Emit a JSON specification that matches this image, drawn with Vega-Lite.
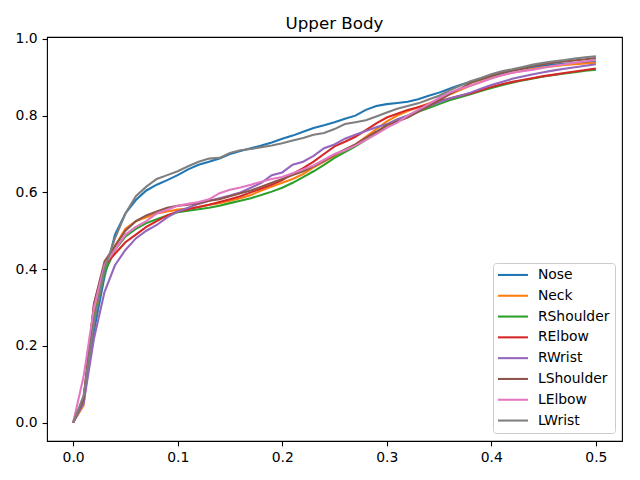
{
"$schema":"https://vega.github.io/schema/vega-lite/v6.json",
"width":575,"height":404,
"autosize":{"type":"none"},
"padding":{"left":47,"top":37,"right":18,"bottom":39},
"background":"white",
"config":{"view":{"stroke":"black","strokeWidth":1.1},"font":"DejaVu Sans"},
"title":{"text":"Upper Body","fontSize":16.7,"fontWeight":"normal","font":"DejaVu Sans","color":"black","offset":-1},
"datasets":{"d":[
{"x":0,"s":"Nose","y":0},{"x":0.01,"s":"Nose","y":0.06},{"x":0.02,"s":"Nose","y":0.24},{"x":0.03,"s":"Nose","y":0.38},{"x":0.04,"s":"Nose","y":0.49},{"x":0.05,"s":"Nose","y":0.545},{"x":0.06,"s":"Nose","y":0.58},{"x":0.07,"s":"Nose","y":0.605},{"x":0.08,"s":"Nose","y":0.62},{"x":0.09,"s":"Nose","y":0.632},{"x":0.1,"s":"Nose","y":0.645},{"x":0.11,"s":"Nose","y":0.66},{"x":0.12,"s":"Nose","y":0.672},{"x":0.13,"s":"Nose","y":0.68},{"x":0.14,"s":"Nose","y":0.688},{"x":0.15,"s":"Nose","y":0.7},{"x":0.16,"s":"Nose","y":0.708},{"x":0.17,"s":"Nose","y":0.715},{"x":0.18,"s":"Nose","y":0.722},{"x":0.19,"s":"Nose","y":0.73},{"x":0.2,"s":"Nose","y":0.74},{"x":0.21,"s":"Nose","y":0.748},{"x":0.22,"s":"Nose","y":0.758},{"x":0.23,"s":"Nose","y":0.768},{"x":0.24,"s":"Nose","y":0.775},{"x":0.25,"s":"Nose","y":0.783},{"x":0.26,"s":"Nose","y":0.792},{"x":0.27,"s":"Nose","y":0.8},{"x":0.28,"s":"Nose","y":0.815},{"x":0.29,"s":"Nose","y":0.825},{"x":0.3,"s":"Nose","y":0.83},{"x":0.31,"s":"Nose","y":0.833},{"x":0.32,"s":"Nose","y":0.836},{"x":0.33,"s":"Nose","y":0.843},{"x":0.34,"s":"Nose","y":0.852},{"x":0.35,"s":"Nose","y":0.86},{"x":0.36,"s":"Nose","y":0.87},{"x":0.37,"s":"Nose","y":0.88},{"x":0.38,"s":"Nose","y":0.888},{"x":0.39,"s":"Nose","y":0.895},{"x":0.4,"s":"Nose","y":0.903},{"x":0.41,"s":"Nose","y":0.91},{"x":0.42,"s":"Nose","y":0.917},{"x":0.43,"s":"Nose","y":0.922},{"x":0.44,"s":"Nose","y":0.926},{"x":0.45,"s":"Nose","y":0.93},{"x":0.46,"s":"Nose","y":0.933},{"x":0.47,"s":"Nose","y":0.935},{"x":0.48,"s":"Nose","y":0.937},{"x":0.49,"s":"Nose","y":0.939},{"x":0.5,"s":"Nose","y":0.94},
{"x":0,"s":"Neck","y":0},{"x":0.01,"s":"Neck","y":0.045},{"x":0.02,"s":"Neck","y":0.28},{"x":0.03,"s":"Neck","y":0.4},{"x":0.04,"s":"Neck","y":0.46},{"x":0.05,"s":"Neck","y":0.505},{"x":0.06,"s":"Neck","y":0.525},{"x":0.07,"s":"Neck","y":0.535},{"x":0.08,"s":"Neck","y":0.545},{"x":0.09,"s":"Neck","y":0.55},{"x":0.1,"s":"Neck","y":0.555},{"x":0.11,"s":"Neck","y":0.558},{"x":0.12,"s":"Neck","y":0.562},{"x":0.13,"s":"Neck","y":0.568},{"x":0.14,"s":"Neck","y":0.572},{"x":0.15,"s":"Neck","y":0.578},{"x":0.16,"s":"Neck","y":0.585},{"x":0.17,"s":"Neck","y":0.593},{"x":0.18,"s":"Neck","y":0.605},{"x":0.19,"s":"Neck","y":0.615},{"x":0.2,"s":"Neck","y":0.625},{"x":0.21,"s":"Neck","y":0.635},{"x":0.22,"s":"Neck","y":0.648},{"x":0.23,"s":"Neck","y":0.665},{"x":0.24,"s":"Neck","y":0.68},{"x":0.25,"s":"Neck","y":0.695},{"x":0.26,"s":"Neck","y":0.71},{"x":0.27,"s":"Neck","y":0.725},{"x":0.28,"s":"Neck","y":0.745},{"x":0.29,"s":"Neck","y":0.765},{"x":0.3,"s":"Neck","y":0.785},{"x":0.31,"s":"Neck","y":0.8},{"x":0.32,"s":"Neck","y":0.812},{"x":0.33,"s":"Neck","y":0.822},{"x":0.34,"s":"Neck","y":0.832},{"x":0.35,"s":"Neck","y":0.842},{"x":0.36,"s":"Neck","y":0.855},{"x":0.37,"s":"Neck","y":0.867},{"x":0.38,"s":"Neck","y":0.878},{"x":0.39,"s":"Neck","y":0.888},{"x":0.4,"s":"Neck","y":0.898},{"x":0.41,"s":"Neck","y":0.905},{"x":0.42,"s":"Neck","y":0.912},{"x":0.43,"s":"Neck","y":0.917},{"x":0.44,"s":"Neck","y":0.922},{"x":0.45,"s":"Neck","y":0.926},{"x":0.46,"s":"Neck","y":0.929},{"x":0.47,"s":"Neck","y":0.932},{"x":0.48,"s":"Neck","y":0.934},{"x":0.49,"s":"Neck","y":0.936},{"x":0.5,"s":"Neck","y":0.938},
{"x":0,"s":"RShoulder","y":0},{"x":0.01,"s":"RShoulder","y":0.06},{"x":0.02,"s":"RShoulder","y":0.27},{"x":0.03,"s":"RShoulder","y":0.39},{"x":0.04,"s":"RShoulder","y":0.45},{"x":0.05,"s":"RShoulder","y":0.485},{"x":0.06,"s":"RShoulder","y":0.505},{"x":0.07,"s":"RShoulder","y":0.52},{"x":0.08,"s":"RShoulder","y":0.53},{"x":0.09,"s":"RShoulder","y":0.54},{"x":0.1,"s":"RShoulder","y":0.548},{"x":0.11,"s":"RShoulder","y":0.552},{"x":0.12,"s":"RShoulder","y":0.556},{"x":0.13,"s":"RShoulder","y":0.56},{"x":0.14,"s":"RShoulder","y":0.565},{"x":0.15,"s":"RShoulder","y":0.572},{"x":0.16,"s":"RShoulder","y":0.578},{"x":0.17,"s":"RShoulder","y":0.585},{"x":0.18,"s":"RShoulder","y":0.593},{"x":0.19,"s":"RShoulder","y":0.602},{"x":0.2,"s":"RShoulder","y":0.612},{"x":0.21,"s":"RShoulder","y":0.625},{"x":0.22,"s":"RShoulder","y":0.64},{"x":0.23,"s":"RShoulder","y":0.655},{"x":0.24,"s":"RShoulder","y":0.672},{"x":0.25,"s":"RShoulder","y":0.69},{"x":0.26,"s":"RShoulder","y":0.705},{"x":0.27,"s":"RShoulder","y":0.72},{"x":0.28,"s":"RShoulder","y":0.737},{"x":0.29,"s":"RShoulder","y":0.755},{"x":0.3,"s":"RShoulder","y":0.775},{"x":0.31,"s":"RShoulder","y":0.79},{"x":0.32,"s":"RShoulder","y":0.8},{"x":0.33,"s":"RShoulder","y":0.81},{"x":0.34,"s":"RShoulder","y":0.82},{"x":0.35,"s":"RShoulder","y":0.83},{"x":0.36,"s":"RShoulder","y":0.84},{"x":0.37,"s":"RShoulder","y":0.848},{"x":0.38,"s":"RShoulder","y":0.856},{"x":0.39,"s":"RShoulder","y":0.864},{"x":0.4,"s":"RShoulder","y":0.872},{"x":0.41,"s":"RShoulder","y":0.879},{"x":0.42,"s":"RShoulder","y":0.886},{"x":0.43,"s":"RShoulder","y":0.892},{"x":0.44,"s":"RShoulder","y":0.897},{"x":0.45,"s":"RShoulder","y":0.902},{"x":0.46,"s":"RShoulder","y":0.906},{"x":0.47,"s":"RShoulder","y":0.91},{"x":0.48,"s":"RShoulder","y":0.913},{"x":0.49,"s":"RShoulder","y":0.917},{"x":0.5,"s":"RShoulder","y":0.92},
{"x":0,"s":"RElbow","y":0},{"x":0.01,"s":"RElbow","y":0.06},{"x":0.02,"s":"RElbow","y":0.31},{"x":0.03,"s":"RElbow","y":0.41},{"x":0.04,"s":"RElbow","y":0.44},{"x":0.05,"s":"RElbow","y":0.47},{"x":0.06,"s":"RElbow","y":0.49},{"x":0.07,"s":"RElbow","y":0.51},{"x":0.08,"s":"RElbow","y":0.525},{"x":0.09,"s":"RElbow","y":0.54},{"x":0.1,"s":"RElbow","y":0.55},{"x":0.11,"s":"RElbow","y":0.556},{"x":0.12,"s":"RElbow","y":0.562},{"x":0.13,"s":"RElbow","y":0.568},{"x":0.14,"s":"RElbow","y":0.575},{"x":0.15,"s":"RElbow","y":0.582},{"x":0.16,"s":"RElbow","y":0.59},{"x":0.17,"s":"RElbow","y":0.6},{"x":0.18,"s":"RElbow","y":0.61},{"x":0.19,"s":"RElbow","y":0.62},{"x":0.2,"s":"RElbow","y":0.632},{"x":0.21,"s":"RElbow","y":0.648},{"x":0.22,"s":"RElbow","y":0.663},{"x":0.23,"s":"RElbow","y":0.68},{"x":0.24,"s":"RElbow","y":0.7},{"x":0.25,"s":"RElbow","y":0.72},{"x":0.26,"s":"RElbow","y":0.732},{"x":0.27,"s":"RElbow","y":0.745},{"x":0.28,"s":"RElbow","y":0.762},{"x":0.29,"s":"RElbow","y":0.78},{"x":0.3,"s":"RElbow","y":0.795},{"x":0.31,"s":"RElbow","y":0.805},{"x":0.32,"s":"RElbow","y":0.815},{"x":0.33,"s":"RElbow","y":0.822},{"x":0.34,"s":"RElbow","y":0.83},{"x":0.35,"s":"RElbow","y":0.838},{"x":0.36,"s":"RElbow","y":0.845},{"x":0.37,"s":"RElbow","y":0.852},{"x":0.38,"s":"RElbow","y":0.858},{"x":0.39,"s":"RElbow","y":0.866},{"x":0.4,"s":"RElbow","y":0.875},{"x":0.41,"s":"RElbow","y":0.882},{"x":0.42,"s":"RElbow","y":0.888},{"x":0.43,"s":"RElbow","y":0.893},{"x":0.44,"s":"RElbow","y":0.898},{"x":0.45,"s":"RElbow","y":0.903},{"x":0.46,"s":"RElbow","y":0.907},{"x":0.47,"s":"RElbow","y":0.911},{"x":0.48,"s":"RElbow","y":0.915},{"x":0.49,"s":"RElbow","y":0.919},{"x":0.5,"s":"RElbow","y":0.923},
{"x":0,"s":"RWrist","y":0},{"x":0.01,"s":"RWrist","y":0.05},{"x":0.02,"s":"RWrist","y":0.22},{"x":0.03,"s":"RWrist","y":0.34},{"x":0.04,"s":"RWrist","y":0.41},{"x":0.05,"s":"RWrist","y":0.45},{"x":0.06,"s":"RWrist","y":0.48},{"x":0.07,"s":"RWrist","y":0.5},{"x":0.08,"s":"RWrist","y":0.515},{"x":0.09,"s":"RWrist","y":0.535},{"x":0.1,"s":"RWrist","y":0.55},{"x":0.11,"s":"RWrist","y":0.56},{"x":0.12,"s":"RWrist","y":0.57},{"x":0.13,"s":"RWrist","y":0.578},{"x":0.14,"s":"RWrist","y":0.585},{"x":0.15,"s":"RWrist","y":0.592},{"x":0.16,"s":"RWrist","y":0.6},{"x":0.17,"s":"RWrist","y":0.612},{"x":0.18,"s":"RWrist","y":0.625},{"x":0.19,"s":"RWrist","y":0.645},{"x":0.2,"s":"RWrist","y":0.652},{"x":0.21,"s":"RWrist","y":0.672},{"x":0.22,"s":"RWrist","y":0.68},{"x":0.23,"s":"RWrist","y":0.695},{"x":0.24,"s":"RWrist","y":0.715},{"x":0.25,"s":"RWrist","y":0.725},{"x":0.26,"s":"RWrist","y":0.74},{"x":0.27,"s":"RWrist","y":0.75},{"x":0.28,"s":"RWrist","y":0.76},{"x":0.29,"s":"RWrist","y":0.77},{"x":0.3,"s":"RWrist","y":0.778},{"x":0.31,"s":"RWrist","y":0.79},{"x":0.32,"s":"RWrist","y":0.8},{"x":0.33,"s":"RWrist","y":0.812},{"x":0.34,"s":"RWrist","y":0.825},{"x":0.35,"s":"RWrist","y":0.835},{"x":0.36,"s":"RWrist","y":0.845},{"x":0.37,"s":"RWrist","y":0.852},{"x":0.38,"s":"RWrist","y":0.86},{"x":0.39,"s":"RWrist","y":0.87},{"x":0.4,"s":"RWrist","y":0.88},{"x":0.41,"s":"RWrist","y":0.888},{"x":0.42,"s":"RWrist","y":0.896},{"x":0.43,"s":"RWrist","y":0.902},{"x":0.44,"s":"RWrist","y":0.908},{"x":0.45,"s":"RWrist","y":0.913},{"x":0.46,"s":"RWrist","y":0.918},{"x":0.47,"s":"RWrist","y":0.922},{"x":0.48,"s":"RWrist","y":0.926},{"x":0.49,"s":"RWrist","y":0.93},{"x":0.5,"s":"RWrist","y":0.934},
{"x":0,"s":"LShoulder","y":0},{"x":0.01,"s":"LShoulder","y":0.06},{"x":0.02,"s":"LShoulder","y":0.31},{"x":0.03,"s":"LShoulder","y":0.42},{"x":0.04,"s":"LShoulder","y":0.46},{"x":0.05,"s":"LShoulder","y":0.5},{"x":0.06,"s":"LShoulder","y":0.525},{"x":0.07,"s":"LShoulder","y":0.54},{"x":0.08,"s":"LShoulder","y":0.55},{"x":0.09,"s":"LShoulder","y":0.56},{"x":0.1,"s":"LShoulder","y":0.565},{"x":0.11,"s":"LShoulder","y":0.568},{"x":0.12,"s":"LShoulder","y":0.572},{"x":0.13,"s":"LShoulder","y":0.578},{"x":0.14,"s":"LShoulder","y":0.582},{"x":0.15,"s":"LShoulder","y":0.59},{"x":0.16,"s":"LShoulder","y":0.598},{"x":0.17,"s":"LShoulder","y":0.605},{"x":0.18,"s":"LShoulder","y":0.615},{"x":0.19,"s":"LShoulder","y":0.625},{"x":0.2,"s":"LShoulder","y":0.635},{"x":0.21,"s":"LShoulder","y":0.645},{"x":0.22,"s":"LShoulder","y":0.655},{"x":0.23,"s":"LShoulder","y":0.668},{"x":0.24,"s":"LShoulder","y":0.682},{"x":0.25,"s":"LShoulder","y":0.698},{"x":0.26,"s":"LShoulder","y":0.712},{"x":0.27,"s":"LShoulder","y":0.725},{"x":0.28,"s":"LShoulder","y":0.742},{"x":0.29,"s":"LShoulder","y":0.758},{"x":0.3,"s":"LShoulder","y":0.775},{"x":0.31,"s":"LShoulder","y":0.785},{"x":0.32,"s":"LShoulder","y":0.795},{"x":0.33,"s":"LShoulder","y":0.81},{"x":0.34,"s":"LShoulder","y":0.825},{"x":0.35,"s":"LShoulder","y":0.84},{"x":0.36,"s":"LShoulder","y":0.856},{"x":0.37,"s":"LShoulder","y":0.87},{"x":0.38,"s":"LShoulder","y":0.885},{"x":0.39,"s":"LShoulder","y":0.894},{"x":0.4,"s":"LShoulder","y":0.904},{"x":0.41,"s":"LShoulder","y":0.912},{"x":0.42,"s":"LShoulder","y":0.918},{"x":0.43,"s":"LShoulder","y":0.923},{"x":0.44,"s":"LShoulder","y":0.93},{"x":0.45,"s":"LShoulder","y":0.934},{"x":0.46,"s":"LShoulder","y":0.938},{"x":0.47,"s":"LShoulder","y":0.941},{"x":0.48,"s":"LShoulder","y":0.944},{"x":0.49,"s":"LShoulder","y":0.947},{"x":0.5,"s":"LShoulder","y":0.95},
{"x":0,"s":"LElbow","y":0},{"x":0.01,"s":"LElbow","y":0.12},{"x":0.02,"s":"LElbow","y":0.3},{"x":0.03,"s":"LElbow","y":0.41},{"x":0.04,"s":"LElbow","y":0.45},{"x":0.05,"s":"LElbow","y":0.49},{"x":0.06,"s":"LElbow","y":0.51},{"x":0.07,"s":"LElbow","y":0.525},{"x":0.08,"s":"LElbow","y":0.545},{"x":0.09,"s":"LElbow","y":0.555},{"x":0.1,"s":"LElbow","y":0.565},{"x":0.11,"s":"LElbow","y":0.57},{"x":0.12,"s":"LElbow","y":0.575},{"x":0.13,"s":"LElbow","y":0.582},{"x":0.14,"s":"LElbow","y":0.598},{"x":0.15,"s":"LElbow","y":0.607},{"x":0.16,"s":"LElbow","y":0.613},{"x":0.17,"s":"LElbow","y":0.62},{"x":0.18,"s":"LElbow","y":0.628},{"x":0.19,"s":"LElbow","y":0.635},{"x":0.2,"s":"LElbow","y":0.64},{"x":0.21,"s":"LElbow","y":0.65},{"x":0.22,"s":"LElbow","y":0.66},{"x":0.23,"s":"LElbow","y":0.67},{"x":0.24,"s":"LElbow","y":0.685},{"x":0.25,"s":"LElbow","y":0.7},{"x":0.26,"s":"LElbow","y":0.71},{"x":0.27,"s":"LElbow","y":0.722},{"x":0.28,"s":"LElbow","y":0.737},{"x":0.29,"s":"LElbow","y":0.752},{"x":0.3,"s":"LElbow","y":0.768},{"x":0.31,"s":"LElbow","y":0.782},{"x":0.32,"s":"LElbow","y":0.8},{"x":0.33,"s":"LElbow","y":0.815},{"x":0.34,"s":"LElbow","y":0.83},{"x":0.35,"s":"LElbow","y":0.846},{"x":0.36,"s":"LElbow","y":0.86},{"x":0.37,"s":"LElbow","y":0.87},{"x":0.38,"s":"LElbow","y":0.878},{"x":0.39,"s":"LElbow","y":0.887},{"x":0.4,"s":"LElbow","y":0.897},{"x":0.41,"s":"LElbow","y":0.905},{"x":0.42,"s":"LElbow","y":0.912},{"x":0.43,"s":"LElbow","y":0.916},{"x":0.44,"s":"LElbow","y":0.92},{"x":0.45,"s":"LElbow","y":0.925},{"x":0.46,"s":"LElbow","y":0.93},{"x":0.47,"s":"LElbow","y":0.934},{"x":0.48,"s":"LElbow","y":0.938},{"x":0.49,"s":"LElbow","y":0.942},{"x":0.5,"s":"LElbow","y":0.945},
{"x":0,"s":"LWrist","y":0},{"x":0.01,"s":"LWrist","y":0.07},{"x":0.02,"s":"LWrist","y":0.26},{"x":0.03,"s":"LWrist","y":0.4},{"x":0.04,"s":"LWrist","y":0.48},{"x":0.05,"s":"LWrist","y":0.545},{"x":0.06,"s":"LWrist","y":0.59},{"x":0.07,"s":"LWrist","y":0.615},{"x":0.08,"s":"LWrist","y":0.635},{"x":0.09,"s":"LWrist","y":0.645},{"x":0.1,"s":"LWrist","y":0.655},{"x":0.11,"s":"LWrist","y":0.668},{"x":0.12,"s":"LWrist","y":0.68},{"x":0.13,"s":"LWrist","y":0.688},{"x":0.14,"s":"LWrist","y":0.69},{"x":0.15,"s":"LWrist","y":0.703},{"x":0.16,"s":"LWrist","y":0.71},{"x":0.17,"s":"LWrist","y":0.713},{"x":0.18,"s":"LWrist","y":0.718},{"x":0.19,"s":"LWrist","y":0.722},{"x":0.2,"s":"LWrist","y":0.728},{"x":0.21,"s":"LWrist","y":0.735},{"x":0.22,"s":"LWrist","y":0.742},{"x":0.23,"s":"LWrist","y":0.75},{"x":0.24,"s":"LWrist","y":0.755},{"x":0.25,"s":"LWrist","y":0.765},{"x":0.26,"s":"LWrist","y":0.778},{"x":0.27,"s":"LWrist","y":0.783},{"x":0.28,"s":"LWrist","y":0.788},{"x":0.29,"s":"LWrist","y":0.798},{"x":0.3,"s":"LWrist","y":0.808},{"x":0.31,"s":"LWrist","y":0.818},{"x":0.32,"s":"LWrist","y":0.825},{"x":0.33,"s":"LWrist","y":0.832},{"x":0.34,"s":"LWrist","y":0.842},{"x":0.35,"s":"LWrist","y":0.852},{"x":0.36,"s":"LWrist","y":0.866},{"x":0.37,"s":"LWrist","y":0.878},{"x":0.38,"s":"LWrist","y":0.89},{"x":0.39,"s":"LWrist","y":0.898},{"x":0.4,"s":"LWrist","y":0.908},{"x":0.41,"s":"LWrist","y":0.916},{"x":0.42,"s":"LWrist","y":0.921},{"x":0.43,"s":"LWrist","y":0.927},{"x":0.44,"s":"LWrist","y":0.933},{"x":0.45,"s":"LWrist","y":0.938},{"x":0.46,"s":"LWrist","y":0.942},{"x":0.47,"s":"LWrist","y":0.945},{"x":0.48,"s":"LWrist","y":0.949},{"x":0.49,"s":"LWrist","y":0.952},{"x":0.5,"s":"LWrist","y":0.955}
]},
"data":{"name":"d"},
"mark":{"type":"line","strokeWidth":2.08,"clip":true},
"encoding":{
"x":{"field":"x","type":"quantitative","scale":{"domain":[-0.025,0.525],"nice":false,"zero":false},
"axis":{"title":null,"values":[0,0.1,0.2,0.3,0.4,0.5],"format":".1f","grid":false,"domain":false,"tickColor":"black","tickSize":4.9,"tickWidth":1.1,"labelPadding":4.9,"labelFontSize":13.9,"labelFont":"DejaVu Sans","labelColor":"black"}},
"y":{"field":"y","type":"quantitative","scale":{"domain":[-0.048,1.005],"nice":false,"zero":false},
"axis":{"title":null,"values":[0,0.2,0.4,0.6,0.8,1.0],"format":".1f","grid":false,"domain":false,"tickColor":"black","tickSize":4.9,"tickWidth":1.1,"labelPadding":4.9,"labelFontSize":13.9,"labelFont":"DejaVu Sans","labelColor":"black"}},
"color":{"field":"s","type":"nominal","sort":["Nose","Neck","RShoulder","RElbow","RWrist","LShoulder","LElbow","LWrist"],
"scale":{"domain":["Nose","Neck","RShoulder","RElbow","RWrist","LShoulder","LElbow","LWrist"],"range":["#1f77b4","#ff7f0e","#2ca02c","#d62728","#9467bd","#8c564b","#e377c2","#7f7f7f"]},
"legend":{"title":null,"orient":"none","legendX":446,"legendY":226,"symbolType":"M-3,0H3","symbolSize":100,"symbolStrokeWidth":2.08,"symbolOffset":8,"labelFontSize":13.9,"labelFont":"DejaVu Sans","labelColor":"black","labelOffset":18,"rowPadding":5.8,"padding":5,"strokeColor":"#cccccc","fillColor":"white","cornerRadius":3}}
}
}
